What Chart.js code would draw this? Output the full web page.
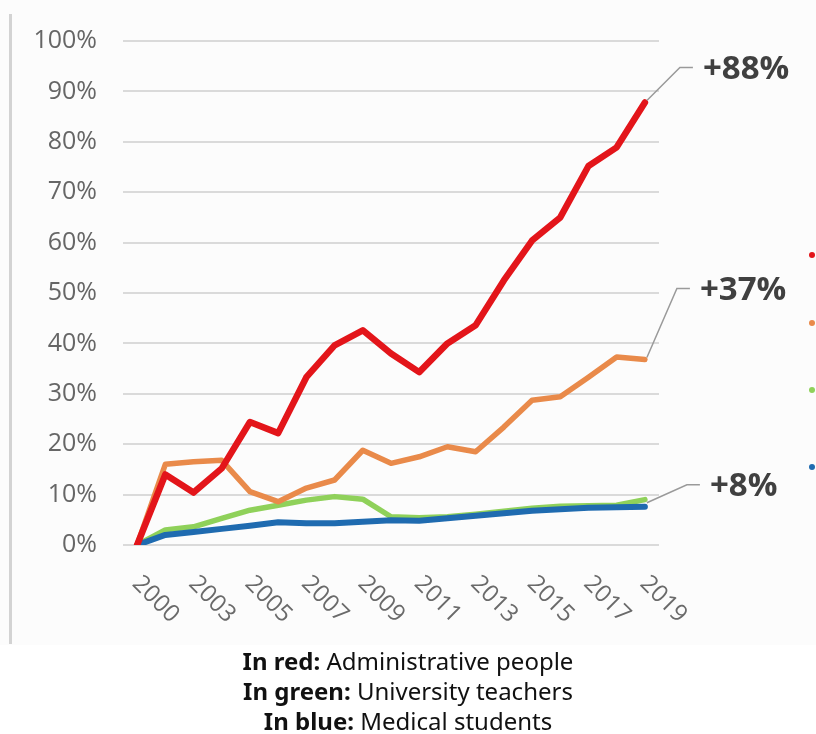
<!DOCTYPE html>
<html>
<head>
<meta charset="utf-8">
<script src="https://cdn.jsdelivr.net/npm/chart.js"></script>
<style>
  body { margin: 0; background: #fff; }
  #wrap { position: relative; width: 816px; height: 645px; background: #fcfcfc; }
  #caption {
    position: absolute; top: 646px; left: 0; width: 816px;
    text-align: center; font-family: "Noto Sans", sans-serif;
    font-size: 24px; line-height: 30px; color: #111;
  }
  #caption b { font-weight: bold; }
</style>
</head>
<body>
<div id="wrap"><canvas id="mychart" width="816" height="645"></canvas></div>
<div id="caption">
  <div><b>In red:</b> Administrative people</div>
  <div><b>In green:</b> University teachers</div>
  <div><b>In blue:</b> Medical students</div>
</div>
<script>
// categories (one year seems skipped in the source, labels shown every other one)
var years = ['2000','2002','2003','2004','2005','2006','2007','2008','2009','2010',
             '2011','2012','2013','2014','2015','2016','2017','2018','2019'];
var yTicks = [0, 10, 20, 30, 40, 50, 60, 70, 80, 90, 100];

// % change since 2000
var admin    = [0, 14, 10.4, 15.2, 24.4, 22.2, 33.3, 39.6, 42.6, 38, 34.3, 40, 43.6, 52.5, 60.4, 65, 75.2, 78.9, 87.8];
var orange   = [0, 16, 16.5, 16.8, 10.6, 8.6, 11.3, 12.9, 18.8, 16.2, 17.5, 19.5, 18.5, 23.4, 28.7, 29.4, 33.3, 37.3, 36.8];
var teachers = [0, 3, 3.6, 5.3, 6.9, 7.9, 8.9, 9.6, 9.1, 5.6, 5.4, 5.6, 6.1, 6.7, 7.3, 7.7, 7.8, 7.9, 9.0];
var students = [0, 2, 2.6, 3.2, 3.8, 4.5, 4.3, 4.3, 4.6, 4.9, 4.8, 5.3, 5.8, 6.3, 6.8, 7.1, 7.4, 7.5, 7.6];

var callouts = ['+88%', '+37%', '+8%'];

var annotate = {
  id: 'annotate',
  beforeDraw: function(chart) {
    var c = chart.ctx;
    c.save();
    c.fillStyle = '#d3d3d3';
    c.fillRect(9, 14, 3, 630);
    c.restore();
  },
  afterDraw: function(chart) {
    var c = chart.ctx;
    var xs = chart.scales.x;
    c.save();
    // x labels, rotated down to the right
    c.font = '24px "Open Sans"';
    c.fillStyle = '#6a6a6a';
    c.textAlign = 'left';
    c.textBaseline = 'middle';
    for (var i = 0; i < years.length; i += 2) {
      c.save();
      c.translate(xs.getPixelForValue(i) - 1, 580);
      c.rotate(Math.PI / 4);
      c.fillText(years[i], 0, 0);
      c.restore();
    }
    // callouts with leader lines
    var spots = [
      { ds: 0, dy: -35, ex: 35, txt: callouts[0] },
      { ds: 1, dy: -71, ex: 32, txt: callouts[1] },
      { ds: 2, dy: -22, ex: 42, txt: callouts[2] }
    ];
    c.font = 'bold 33px "Open Sans"';
    spots.forEach(function(s) {
      var pts = chart.getDatasetMeta(s.ds).data;
      var p = pts[pts.length - 1];
      var y0 = s.ds === 2 ? p.y - 4 : p.y - 2;
      var ey = p.y + s.dy;
      c.strokeStyle = '#9a9a9a';
      c.lineWidth = 1.5;
      c.beginPath();
      c.moveTo(p.x + 2, y0);
      c.lineTo(p.x + s.ex, ey);
      c.lineTo(p.x + s.ex + 13, ey);
      c.stroke();
      c.fillStyle = '#404040';
      c.textBaseline = 'middle';
      c.fillText(s.txt, p.x + s.ex + 23, ey + 2);
    });
    // cut-off legend marks at the right edge
    var marks = [[0, 255], [1, 323], [3, 390], [2, 467]];
    marks.forEach(function(m) {
      c.fillStyle = chart.data.datasets[m[0]].borderColor;
      c.beginPath();
      c.arc(812, m[1], 3, 0, Math.PI * 2);
      c.fill();
    });
    c.restore();
  }
};

new Chart(document.getElementById('mychart'), {
  type: 'line',
  data: {
    labels: years,
    datasets: [
      { label: 'Administrative people', data: admin, borderColor: '#e3151a', borderWidth: 6.5, order: 0 },
      { label: 'Other', data: orange, borderColor: '#e98a4a', borderWidth: 5.5, order: 1 },
      { label: 'Medical students', data: students, borderColor: '#1f6bb0', borderWidth: 6, order: 2 },
      { label: 'University teachers', data: teachers, borderColor: '#8fd15a', borderWidth: 5.5, order: 3 }
    ]
  },
  options: {
    responsive: false,
    animation: false,
    layout: { padding: { top: 40, right: 157, bottom: 0, left: 0 } },
    elements: { point: { radius: 0 }, line: { tension: 0, borderJoinStyle: 'round', borderCapStyle: 'round' } },
    plugins: { legend: { display: false }, tooltip: { enabled: false } },
    scales: {
      x: {
        offset: true,
        grid: { display: false },
        border: { display: false },
        ticks: { display: false },
        afterFit: function(s) { s.height = 100; }
      },
      y: {
        min: 0, max: 100,
        afterBuildTicks: function(s) { s.ticks = yTicks.map(function(v) { return { value: v }; }); },
        grid: { color: '#dadada', lineWidth: 2, drawTicks: false },
        border: { display: false },
        ticks: {
          padding: 26,
          color: '#666666',
          font: { family: 'Open Sans', size: 25 },
          callback: function(v) { return v + '%'; }
        },
        afterFit: function(s) { s.width = 123; }
      }
    }
  },
  plugins: [annotate]
});
</script>
</body>
</html>
